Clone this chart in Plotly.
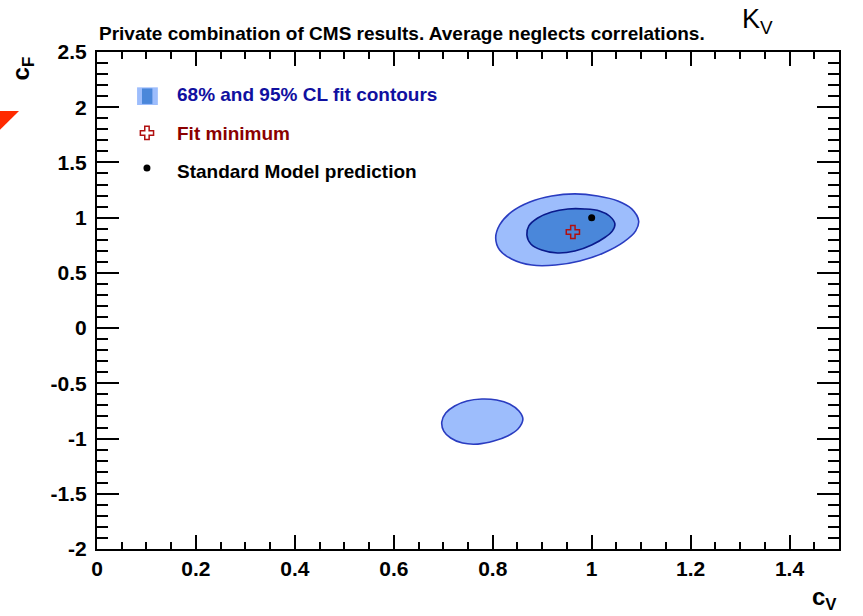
import plotly.graph_objects as go

# contour points (cV, cF)
outer_cv = [1.095, 1.081, 1.053, 1.012, 0.966, 0.919, 0.875, 0.838, 0.814, 0.806, 0.814, 0.838,
            0.879, 0.927, 0.976, 1.024, 1.065, 1.089]
outer_cf = [0.970, 1.079, 1.151, 1.196, 1.215, 1.196, 1.142, 1.052, 0.934, 0.816, 0.707, 0.626,
            0.571, 0.571, 0.608, 0.680, 0.780, 0.880]

inner_cv = [1.047, 1.036, 1.016, 0.986, 0.952, 0.919, 0.891, 0.873, 0.869, 0.877, 0.899, 0.931,
            0.966, 1.000, 1.028, 1.042]
inner_cf = [0.943, 1.015, 1.061, 1.079, 1.079, 1.052, 0.997, 0.925, 0.843, 0.762, 0.707, 0.680,
            0.698, 0.753, 0.825, 0.880]

lower_cv = [0.861, 0.853, 0.834, 0.808, 0.778, 0.748, 0.723, 0.705, 0.697, 0.701, 0.715, 0.739,
            0.770, 0.802, 0.830, 0.851]
lower_cf = [-0.823, -0.751, -0.687, -0.651, -0.642, -0.660, -0.705, -0.769, -0.850, -0.932,
            -0.995, -1.041, -1.050, -1.023, -0.977, -0.914]

fit_min = (0.962, 0.87)
sm_point = (1.0, 1.0)

legend_labels = ["68% and 95% CL fit contours", "Fit minimum", "Standard Model prediction"]
legend_colors = ["#1010a0", "#8b0000", "#000000"]

FONT = "Liberation Sans, Arial, sans-serif"
LIGHT = "#9dbdfc"
DARK = "#4a87da"

fig = go.Figure()

def closed(a):
    return list(a) + [a[0]]

fig.add_trace(go.Scatter(x=closed(outer_cv), y=closed(outer_cf), mode="lines",
                         line=dict(color="#2a3cc0", width=1.6, shape="spline", smoothing=1.0),
                         fill="toself", fillcolor=LIGHT, hoverinfo="skip"))
fig.add_trace(go.Scatter(x=closed(lower_cv), y=closed(lower_cf), mode="lines",
                         line=dict(color="#2a3cc0", width=1.6, shape="spline", smoothing=1.0),
                         fill="toself", fillcolor=LIGHT, hoverinfo="skip"))
fig.add_trace(go.Scatter(x=closed(inner_cv), y=closed(inner_cf), mode="lines",
                         line=dict(color="#0a1a8c", width=1.6, shape="spline", smoothing=1.0),
                         fill="toself", fillcolor=DARK, hoverinfo="skip"))

fig.add_trace(go.Scatter(x=[fit_min[0]], y=[fit_min[1]], mode="markers",
                         marker=dict(symbol="cross-open", size=11, color="#b01010",
                                     line=dict(width=1.5, color="#b01010"))))
fig.add_trace(go.Scatter(x=[sm_point[0]], y=[sm_point[1]], mode="markers",
                         marker=dict(symbol="circle", size=7, color="black")))

# legend glyphs
fig.add_trace(go.Scatter(x=[0.101], y=[1.767], mode="markers",
                         marker=dict(symbol="cross-open", size=11, color="#b01010",
                                     line=dict(width=1.5, color="#b01010"))))
fig.add_trace(go.Scatter(x=[0.101], y=[1.45], mode="markers",
                         marker=dict(symbol="circle", size=7, color="black")))
fig.add_shape(type="rect", xref="x", yref="y", x0=0.081, x1=0.123, y0=2.02, y1=2.18,
              fillcolor=LIGHT, line=dict(width=0))
fig.add_shape(type="rect", xref="x", yref="y", x0=0.091, x1=0.112, y0=2.03, y1=2.17,
              fillcolor=DARK, line=dict(width=0))

for i, (lab, col) in enumerate(zip(legend_labels, legend_colors)):
    fig.add_annotation(x=0.157, y=[2.115, 1.765, 1.415][i], xref="x", yref="y",
                       text="<b>" + lab + "</b>",
                       showarrow=False, xanchor="left", yanchor="middle",
                       font=dict(family=FONT, size=19, color=col))

fig.add_annotation(x=0, y=1.038, xref="paper", yref="paper", showarrow=False,
                   xanchor="left", yanchor="middle",
                   text="<b>Private combination of CMS results. Average neglects correlations.</b>",
                   font=dict(family=FONT, size=19, color="black"))
fig.add_annotation(x=0.866, y=1.062, xref="paper", yref="paper", showarrow=False,
                   xanchor="left", yanchor="middle", text="K<sub>V</sub>",
                   font=dict(family=FONT, size=27, color="black"))
fig.add_annotation(x=-0.124, y=0.996, xref="paper", yref="paper", showarrow=False,
                   textangle=-90, text="<b>c<sub>F</sub></b>",
                   font=dict(family=FONT, size=24, color="black"))
fig.add_annotation(x=1.0, y=-0.135, xref="paper", yref="paper", showarrow=False,
                   text="<b>c<sub>V</sub></b>",
                   font=dict(family=FONT, size=24, color="black"))

# red corner triangle at the left edge
fig.add_shape(type="path", xref="paper", yref="paper",
              path="M -0.131 0.8813 L -0.1051 0.8813 L -0.131 0.8431 Z",
              fillcolor="#ff2a00", line=dict(width=0))

axis_common = dict(showgrid=False, zeroline=False, showline=True, linecolor="black",
                   linewidth=2, mirror="allticks", ticks="inside", tickcolor="black",
                   tickwidth=1.5,
                   tickfont=dict(family=FONT, size=21, color="black", weight="bold"))

fig.update_xaxes(range=[0, 1.5], ticklen=14, ticklabelstandoff=0,
                 tickvals=[0, 0.2, 0.4, 0.6, 0.8, 1.0, 1.2, 1.4],
                 ticktext=["0", "0.2", "0.4", "0.6", "0.8", "1", "1.2", "1.4"],
                 minor=dict(dtick=0.05, tick0=0, ticklen=7, ticks="inside",
                            tickcolor="black", tickwidth=1.5),
                 **axis_common)
fig.update_yaxes(range=[-2, 2.5], ticklen=22, ticklabelstandoff=4,
                 tickvals=[-2, -1.5, -1, -0.5, 0, 0.5, 1, 1.5, 2, 2.5],
                 ticktext=["-2", "-1.5", "-1", "-0.5", "0", "0.5", "1", "1.5", "2", "2.5"],
                 minor=dict(dtick=0.1, tick0=0, ticklen=11, ticks="inside",
                            tickcolor="black", tickwidth=1.5),
                 **axis_common)

fig.update_layout(width=863, height=616, showlegend=False,
                  plot_bgcolor="white", paper_bgcolor="white",
                  margin=dict(l=97, r=24, t=52, b=67))

fig.write_html("out.html", config={"displayModeBar": False},
               post_script="document.body.style.margin='0';")
